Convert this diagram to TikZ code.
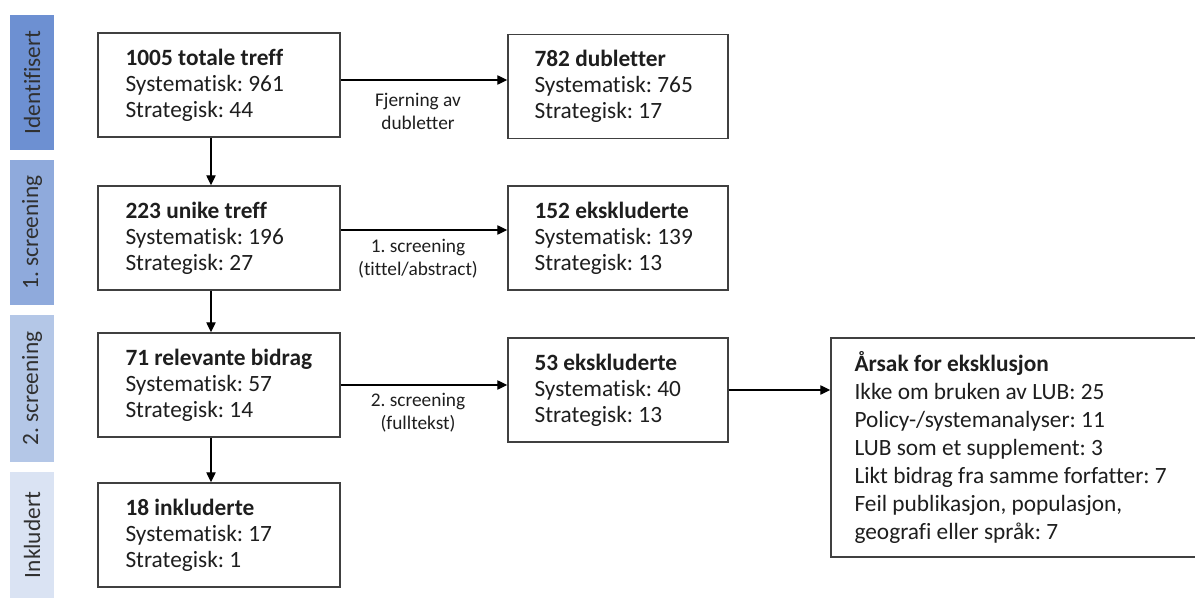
\documentclass[tikz,border=0pt]{standalone}
\usepackage{fontspec}
\setmainfont[Ligatures=NoCommon]{Carlito}
\usetikzlibrary{arrows.meta,calc}
\frenchspacing
\definecolor{barA}{HTML}{6D90D2}
\definecolor{barB}{HTML}{8FAADC}
\definecolor{barC}{HTML}{B4C7E7}
\definecolor{barD}{HTML}{DAE3F3}
\definecolor{boxline}{HTML}{404040}
\definecolor{txtcol}{HTML}{1E1E1E}
\definecolor{sidetxt}{HTML}{303030}
\def\ux{0.75pt}
\begin{document}
\begin{tikzpicture}[x=0.75pt,y=-0.75pt,
  side/.style={rotate=90, inner sep=0pt, minimum height={44*\ux}, text=sidetxt, font=\fontsize{17.5}{21}\selectfont},
  lbox/.style={draw=boxline, line width=1.1pt, fill=white, inner sep=0pt, minimum width={242*\ux}, minimum height={104*\ux}},
  rbox/.style={draw=boxline, line width=1.1pt, fill=white, inner sep=0pt, minimum width={220*\ux}, minimum height={104*\ux}},
  btxt/.style={anchor=west, align=left, inner sep=0pt, text=txtcol, font=\fontsize{17.5}{19.5}\selectfont},
  etxt/.style={anchor=west, align=left, inner sep=0pt, text=txtcol, font=\fontsize{17.5}{21}\selectfont},
  elabel/.style={align=center, inner sep=0pt, text=txtcol, font=\fontsize{14.5}{17.25}\selectfont},
  arr/.style={draw=black, line width=1pt, -{Triangle[length=7.5pt, width=7pt]}}
]
\useasboundingbox (0,0) rectangle (1195,599);
\clip (0,0) rectangle (1195,599);

% side bars
\node[side, fill=barA, minimum width={135*\ux}] (s1) at (32,82.5) {Identifisert};
\node[side, fill=barB, minimum width={145*\ux}] (s2) at (32,232.5) {1. screening};
\node[side, fill=barC, minimum width={147*\ux}] (s3) at (32,388.5) {2. screening};
\node[side, fill=barD, minimum width={126*\ux}] (s4) at (32,535) {Inkludert};

% left column
\node[lbox] (a1) at (219,85) {};
\node[lbox] (a2) at (219,238) {};
\node[lbox] (a3) at (219,385) {};
\node[lbox] (a4) at (219,535) {};
\node[btxt] (a1t) at ($(a1.west)+(28,0)$) {\textbf{1005 totale treff}\\Systematisk: 961\\Strategisk: 44};
\node[btxt] (a2t) at ($(a2.west)+(28,0)$) {\textbf{223 unike treff}\\Systematisk: 196\\Strategisk: 27};
\node[btxt] (a3t) at ($(a3.west)+(28,0)$) {\textbf{71 relevante bidrag}\\Systematisk: 57\\Strategisk: 14};
\node[btxt] (a4t) at ($(a4.west)+(28,0)$) {\textbf{18 inkluderte}\\Systematisk: 17\\Strategisk: 1};

% middle column
\node[rbox] (b1) at (618,86.5) {};
\node[rbox] (b2) at (618,238) {};
\node[rbox] (b3) at (618,390) {};
\node[btxt] (b1t) at ($(b1.west)+(27,0)$) {\textbf{782 dubletter}\\Systematisk: 765\\Strategisk: 17};
\node[btxt] (b2t) at ($(b2.west)+(27,0)$) {\textbf{152 ekskluderte}\\Systematisk: 139\\Strategisk: 13};
\node[btxt] (b3t) at ($(b3.west)+(27,0)$) {\textbf{53 ekskluderte}\\Systematisk: 40\\Strategisk: 13};

% right box (cut off at the edge)
\node[draw=boxline, line width=1.1pt, fill=white, inner sep=0pt, minimum width={400*\ux}, minimum height={219*\ux}] (c) at (1031,447.5) {};
\node[etxt] (ct) at ($(c.west)+(24,0)$) {\textbf{Årsak for eksklusjon}\\Ikke om bruken av LUB: 25\\Policy-/systemanalyser: 11\\LUB som et supplement: 3\\Likt bidrag fra samme forfatter: 7\\Feil publikasjon, populasjon,\\geografi eller språk: 7};

% connector start points
\coordinate (p1) at ($(a1.east)+(0,-5)$);
\coordinate (p2) at ($(a2.east)+(0,-8)$);
\coordinate (v1) at ($(a1.south)+(-8,0)$);
\coordinate (v2) at ($(a2.south)+(-8,0)$);
\coordinate (v3) at ($(a3.south)+(-8,0)$);

% connectors
\draw[arr] (p1) -- (p1 -| b1.west);
\draw[arr] (p2) -- (p2 -| b2.west);
\draw[arr] (a3.east) -- (a3.east -| b3.west);
\draw[arr] (b3.east) -- (b3.east -| c.west);
\draw[arr] (v1) -- (v1 |- a2.north);
\draw[arr] (v2) -- (v2 |- a3.north);
\draw[arr] (v3) -- (v3 |- a4.north);

% connector labels
\node[elabel] (l1) at (418,111) {Fjerning av\\dubletter};
\node[elabel] (l2) at (418,259) {1. screening\\(tittel/abstract)};
\node[elabel] (l3) at (418,413) {2. screening\\(fulltekst)};
\end{tikzpicture}
\end{document}
